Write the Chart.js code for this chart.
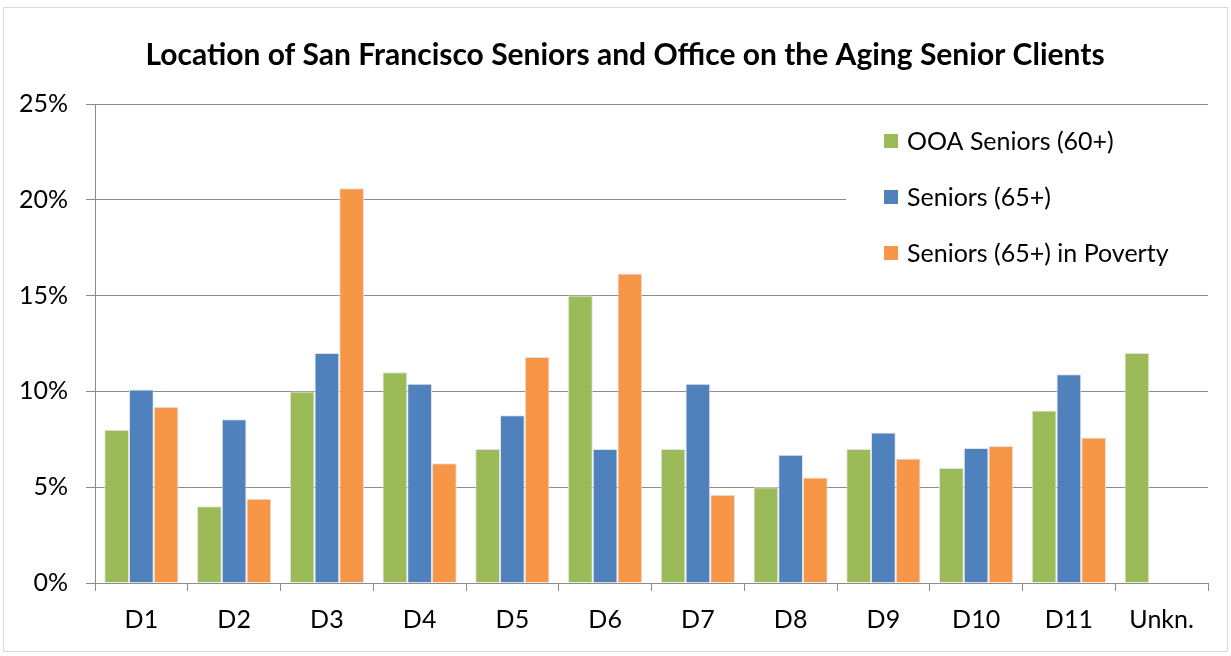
<!DOCTYPE html>
<html>
<head>
<meta charset="utf-8">
<script src="https://cdn.jsdelivr.net/npm/chart.js@4.4.0/dist/chart.umd.min.js"></script>
<style>
  html, body { margin: 0; padding: 0; background: #fff; }
  #wrap { width: 1231px; height: 656px; }
</style>
</head>
<body>
<div id="wrap"><canvas id="seniorsChart" width="1231" height="656"></canvas></div>
<script>
// Distritos e valores (em %)
const distritos = ["D1", "D2", "D3", "D4", "D5", "D6", "D7", "D8", "D9", "D10", "D11", "Unkn."];
const ooaSeniors = [8, 4, 10, 11, 7, 15, 7, 5, 7, 6, 9, 12];
const seniors65 = [10.1, 8.55, 12.0, 10.4, 8.75, 7.0, 10.4, 6.7, 7.85, 7.05, 10.9, null];
const seniorsPobreza = [9.2, 4.4, 20.6, 6.25, 11.8, 16.15, 4.6, 5.5, 6.5, 7.15, 7.6, null];
const tickValores = [0, 5, 10, 15, 20, 25];
const titulo = 'Location of San Francisco Seniors and Office on the Aging Senior Clients';

const fonte = "Lato, 'Open Sans', sans-serif";

// Moldura cinza e título
const moldura = {
  id: 'moldura',
  beforeDraw(chart) {
    const c = chart.ctx;
    c.save();
    c.fillStyle = '#fff';
    c.fillRect(0, 0, chart.width, chart.height);
    c.strokeStyle = '#d9d9d9';
    c.lineWidth = 1;
    c.strokeRect(3.5, 7.5, 1224, 644);
    c.fillStyle = '#000';
    c.font = "bold 30px " + fonte;
    c.textAlign = 'center';
    c.textBaseline = 'middle';
    c.fillText(titulo, 625, 55);
    c.restore();
  }
};

// Legenda desenhada dentro da área do gráfico (canto superior direito)
const legendaInterna = {
  id: 'legendaInterna',
  afterDatasetsDraw(chart) {
    const c = chart.ctx;
    c.save();
    c.fillStyle = '#fff';
    c.fillRect(846, 112, 362, 170);
    c.font = "25px " + fonte;
    c.textBaseline = 'middle';
    const linhas = [141, 197, 253];
    chart.data.datasets.forEach((ds, i) => {
      c.fillStyle = ds.backgroundColor;
      c.fillRect(884, linhas[i] - 7, 14, 14);
      c.fillStyle = '#000';
      c.fillText(ds.label, 907, linhas[i] + 1);
    });
    c.restore();
  }
};

const ctx = document.getElementById('seniorsChart').getContext('2d');

new Chart(ctx, {
  type: 'bar',
  data: {
    labels: distritos,
    datasets: [
      { label: 'OOA Seniors (60+)', data: ooaSeniors, backgroundColor: '#9BBB59' },
      { label: 'Seniors (65+)', data: seniors65, backgroundColor: '#4F81BD' },
      { label: 'Seniors (65+) in Poverty', data: seniorsPobreza, backgroundColor: '#F79646' }
    ]
  },
  options: {
    responsive: false,
    animation: false,
    layout: { padding: { left: 0, right: 23, top: 104, bottom: 10 } },
    datasets: {
      bar: {
        categoryPercentage: 0.8,
        barPercentage: 1.0,
        borderWidth: 1,
        borderColor: '#e3e3e3'
      }
    },
    plugins: {
      legend: { display: false },
      tooltip: { enabled: false },
      title: { display: false }
    },
    scales: {
      x: {
        grid: {
          offset: true,
          drawOnChartArea: false,
          color: '#8c8c8c',
          tickLength: 8
        },
        border: { color: '#8c8c8c', width: 1 },
        ticks: { color: '#000', font: { family: fonte, size: 25 }, padding: 14 },
        afterFit(scale) { scale.height = 63; }
      },
      y: {
        min: 0,
        max: 25,
        afterBuildTicks(scale) { scale.ticks = tickValores.map(v => ({ value: v })); },
        grid: { color: '#8c8c8c', tickLength: 9 },
        border: { color: '#8c8c8c', width: 1 },
        ticks: {
          color: '#000',
          font: { family: fonte, size: 25 },
          padding: 18,
          callback: v => v + '%'
        },
        afterFit(scale) { scale.width = 95; }
      }
    }
  },
  plugins: [moldura, legendaInterna]
});
</script>
</body>
</html>
